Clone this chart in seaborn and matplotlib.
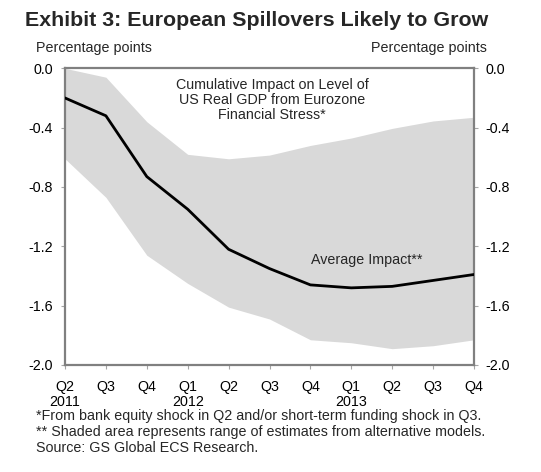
import matplotlib
matplotlib.use("Agg")
import matplotlib.pyplot as plt
import seaborn as sns
import pandas as pd
import numpy as np

quarters = ["Q2\n2011", "Q3", "Q4", "Q1\n2012", "Q2", "Q3", "Q4", "Q1\n2013", "Q2", "Q3", "Q4"]
average_impact = [-0.20, -0.32, -0.73, -0.95, -1.22, -1.35, -1.46, -1.48, -1.47, -1.43, -1.39]
upper_bound = [0.0, -0.06, -0.36, -0.58, -0.61, -0.585, -0.52, -0.47, -0.405, -0.355, -0.33]
lower_bound = [-0.61, -0.87, -1.26, -1.45, -1.61, -1.69, -1.83, -1.85, -1.89, -1.87, -1.83]
yticks = [0.0, -0.4, -0.8, -1.2, -1.6, -2.0]

sns.set_theme(style="white")
plt.rcParams["font.family"] = ["Liberation Sans", "DejaVu Sans"]
plt.rcParams["axes.unicode_minus"] = False

FS = 10.3

df = pd.DataFrame({"idx": np.arange(len(quarters)), "avg": average_impact,
                   "lo": lower_bound, "hi": upper_bound})

fig = plt.figure(figsize=(5.41, 4.72), dpi=100)
ax = fig.add_axes([65/541, 1 - 365/472, (474-65)/541, (365-68.3)/472])

ax.fill_between(df["idx"], df["lo"], df["hi"], color="#d9d9d9", linewidth=0, zorder=1)
sns.lineplot(data=df, x="idx", y="avg", ax=ax, color="black", linewidth=2, zorder=3)

ax.set_xlim(0, len(quarters) - 1)
ax.set_ylim(-2.0, 0.0)
ax.set_xticks(df["idx"])
ax.set_xticklabels(quarters, fontsize=FS, color="black", linespacing=1.12)
ax.set_yticks(yticks)
ax.set_yticklabels([f"{v:.1f}" for v in yticks], fontsize=FS, color="black")
ax.set_xlabel("")
ax.set_ylabel("")

for s in ax.spines.values():
    s.set_color("#808080")
    s.set_linewidth(1.6)

ax.tick_params(axis="y", which="both", left=True, right=True, labelleft=True, labelright=True,
               direction="out", length=3, width=0.8, color="#a6a6a6", pad=5.5)
ax.tick_params(axis="x", bottom=True, direction="out", length=3, width=0.8, color="#a6a6a6", pad=7.5)

ax.text(5.07, -0.214, "Cumulative Impact on Level of\nUS Real GDP from Eurozone\nFinancial Stress*",
        ha="center", va="center", fontsize=FS, linespacing=1.05)
ax.text(7.37, -1.29, "Average Impact**", ha="center", va="center", fontsize=FS)

fig.text(257/541, 1 - 20/472, "Exhibit 3: European Spillovers Likely to Grow",
         ha="center", va="center", fontsize=15.4, fontweight="bold")
fig.text(36/541, 1 - 48/472, "Percentage points", ha="left", va="center", fontsize=FS)
fig.text(487/541, 1 - 48/472, "Percentage points", ha="right", va="center", fontsize=FS)

foot = ["*From bank equity shock in Q2 and/or short-term funding shock in Q3.",
        "** Shaded area represents range of estimates from alternative models.",
        "Source: GS Global ECS Research."]
for i, line in enumerate(foot):
    fig.text(36/541, 1 - (416 + 16*i)/472, line, ha="left", va="center", fontsize=FS)

fig.savefig("out.png", dpi=100)
